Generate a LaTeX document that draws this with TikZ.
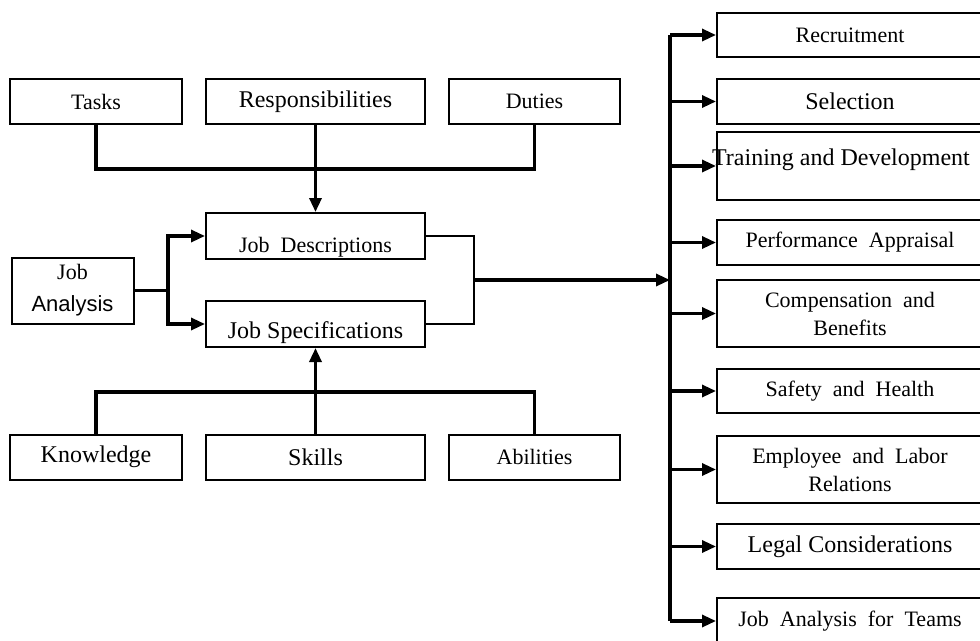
\documentclass[tikz,border=0pt]{standalone}
\usepackage{fontspec}
\setmainfont{Liberation Serif}
\newfontfamily\arialfont{Liberation Sans}
\usetikzlibrary{arrows.meta}

\begin{document}
\begin{tikzpicture}[x=1pt,y=-1pt,
  box/.style={draw,line width=2pt,inner sep=0pt,minimum height=45pt},
  dark/.style={font=\fontsize{24}{28}\selectfont},
  light/.style={font=\fontsize{22}{28}\selectfont,execute at begin node={\spaceskip=0.5em\relax}},
  rbox/.style={box,minimum width=266pt,align=center},
  shifted/.style 2 args={text height=#1,text depth=#2},
  link/.style={line width=3.2pt},
  thinlink/.style={line width=1.6pt},
  arr/.style={link,-{Triangle[length=14pt,width=12pt]}}]
\useasboundingbox (0,0) rectangle (980,640);

% top row
\node[box,light,minimum width=172pt] (tasks) at (96,101.5) {Tasks};
\node[box,dark,minimum width=219pt] (resp) at (315.5,101.5) {Responsibilities};
\node[box,light,minimum width=171pt] (duties) at (534.5,101.5) {Duties};

% middle
\node[box,light,minimum width=219pt,minimum height=46pt,shifted={32pt}{0pt}] (jd) at (315.5,236) {Job Descriptions};
\node[box,dark,minimum width=219pt,minimum height=46pt,shifted={28pt}{0pt}] (js) at (315.5,324) {Job Specifications};
\node[box,minimum width=122pt,minimum height=66pt,align=center,font=\arialfont\fontsize{22}{32}\selectfont] (ja) at (72.5,290.5) {{\rmfamily Job}\\Analysis};

% bottom row
\node[box,dark,minimum width=172pt] (know) at (96,457) {Knowledge};
\node[box,dark,minimum width=219pt] (skills) at (315.5,457) {Skills};
\node[box,light,minimum width=171pt] (abil) at (534.5,457) {Abilities};

% right column
\node[rbox,light,minimum height=44pt] (rec) at (850,35) {Recruitment};
\node[rbox,dark] (sel) at (850,101.5) {Selection};
\node[rbox,dark,minimum height=68pt,shifted={16pt}{18pt}] (train) at (850,166) {\hspace*{-18pt}Training and Development};
\node[rbox,light] (perf) at (850,242.5) {Performance Appraisal};
\node[rbox,light,minimum height=67pt] (comp) at (850,313.5) {Compensation and\\Benefits};
\node[rbox,light,minimum height=44pt] (safe) at (850,391) {Safety and Health};
\node[rbox,light,minimum height=67pt] (empl) at (850,469.5) {Employee and Labor\\Relations};
\node[rbox,dark] (legal) at (850,546.5) {Legal Considerations};
\node[rbox,light,minimum height=46pt] (teams) at (850,621) {Job Analysis for Teams};

\coordinate (topbar) at (315.5,169);
\coordinate (botbar) at (315.5,392);
\coordinate (split) at (168,290.5);
\coordinate (merge) at (474,280);
\coordinate (bus) at (670,280);

% connectors
\draw[link] (tasks) |- (topbar) -| (duties);
\draw[arr] (resp) -- (jd);
\draw[link] (know) |- (botbar) -| (abil);
\draw[arr] (skills) -- (js);
\draw[link] (ja) -- (split);
\draw[arr] (split) |- (jd);
\draw[arr] (split) |- (js);
\draw[thinlink] (jd) -| (merge);
\draw[thinlink] (js) -| (merge);
\draw[arr] (merge) -- (bus);
\draw[link] (bus |- rec) -- (bus |- teams);
\foreach \n in {rec,sel,train,perf,comp,safe,empl,legal,teams}
  \draw[arr] (bus |- \n) -- (\n);
\end{tikzpicture}
\end{document}
